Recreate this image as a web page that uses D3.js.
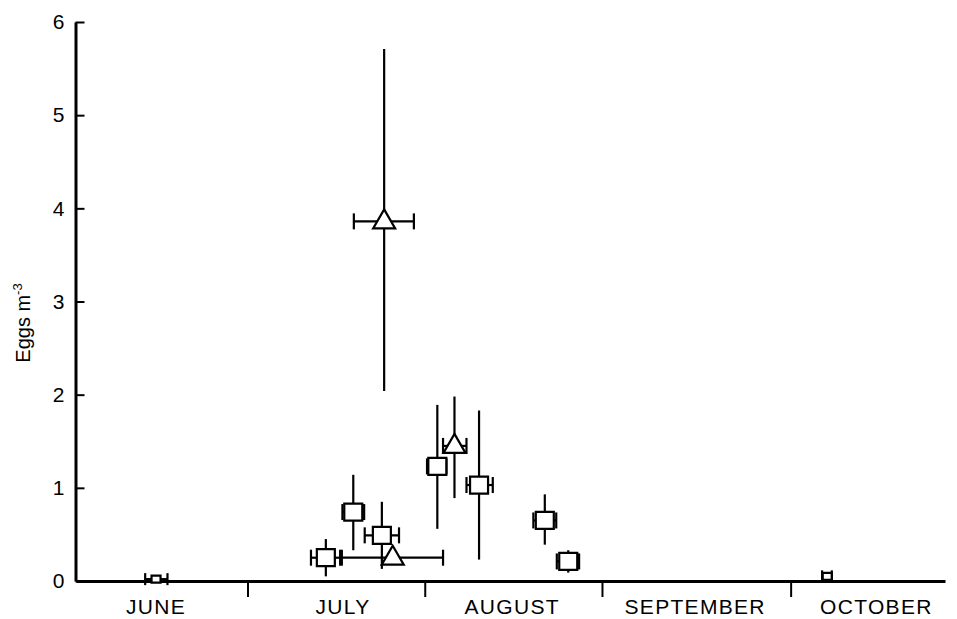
<!DOCTYPE html>
<html>
<head>
<meta charset="utf-8">
<script src="https://cdn.jsdelivr.net/npm/d3@7"></script>
<style>
body { margin: 0; background: #fff; }
text { font-family: "Liberation Sans", Arial, Helvetica, sans-serif; fill: #000; }
</style>
</head>
<body>
<div id="chart"></div>
<script>
// months along the x axis (days counted from 1 June)
let months = ["JUNE", "JULY", "AUGUST", "SEPTEMBER", "OCTOBER"]
let monthMid = [14, 46.7, 76.3, 108.3, 140]
let monthBreaks = [30, 61, 92, 125]
let yTicks = [0, 1, 2, 3, 4, 5, 6]

// samples: marker kind, day, day range, eggs and its range
let kind = ["small", "square", "square", "square", "triangle", "triangle", "square", "triangle", "square", "square", "square", "small"]
let day = [14.0, 43.7, 48.5, 53.5, 55.4, 53.9, 63.2, 66.2, 70.5, 82.0, 86.1, 131.4]
let dayLo = [12.1, 41.1, 46.6, 50.5, 46.5, 48.6, 61.4, 64.2, 68.3, 80.0, 84.1, 130.5]
let dayHi = [16.0, 46.2, 50.4, 56.5, 64.2, 59.1, 64.8, 68.3, 72.9, 84.0, 88.0, 132.2]
let eggs = [0.02, 0.25, 0.74, 0.49, 0.25, 3.86, 1.23, 1.45, 1.03, 0.65, 0.21, 0.05]
let eggsLo = [null, 0.05, 0.33, 0.13, null, 2.04, 0.56, 0.89, 0.23, 0.39, 0.09, null]
let eggsHi = [null, 0.45, 1.14, 0.85, null, 5.71, 1.89, 1.98, 1.83, 0.93, 0.33, null]

let svgWidth = 957
let svgHeight = 619

let svg = d3.select("#chart")
    .append("svg")
    .attr("width", svgWidth)
    .attr("height", svgHeight)

let data = day.map((d, i) => ({
    kind: kind[i], day: d, lo: dayLo[i], hi: dayHi[i],
    eggs: eggs[i], eLo: eggsLo[i], eHi: eggsHi[i]
}))

let x = d3.scaleLinear().domain([0, 152]).range([76, 945])
let y = d3.scaleLinear().domain([0, 6]).range([581, 22])

// y axis, ticks point inward
let yAxis = svg.append("g")
    .attr("transform", "translate(75.5,0)")
    .call(d3.axisLeft(y).tickValues(yTicks).tickFormat(d3.format("d"))
        .tickSizeInner(-9).tickSizeOuter(0).tickPadding(11))
yAxis.select(".domain").attr("stroke-width", 3)
yAxis.selectAll(".tick line").attr("stroke-width", 2)
yAxis.selectAll(".tick text")
    .style("font-size", "21px")

// x axis with month boundary ticks
let xAxis = svg.append("g")
    .attr("transform", "translate(0,581)")
    .call(d3.axisBottom(x).tickValues(monthBreaks).tickSize(16).tickSizeOuter(0).tickFormat(""))
xAxis.select(".domain").attr("stroke-width", 3)
xAxis.selectAll(".tick line").attr("stroke-width", 2)

svg.append("g").selectAll("text")
    .data(months)
    .enter()
    .append("text")
    .attr("x", (d, i) => x(monthMid[i]))
    .attr("y", 614)
    .attr("text-anchor", "middle")
    .style("font-size", "21px")
    .style("letter-spacing", "1.3px")
    .text(d => d)

// axis title
let yLabel = svg.append("text")
    .attr("transform", "translate(30,323) rotate(-90)")
    .attr("text-anchor", "middle")
    .style("font-size", "20px")
yLabel.append("tspan").text("Eggs m")
yLabel.append("tspan").attr("dy", -8).style("font-size", "13px").text("-3")

let marks = svg.append("g")
    .attr("stroke", "#000")
    .attr("stroke-width", 2.2)

// vertical error bars
marks.selectAll(".ebar")
    .data(data.filter(d => d.eLo !== null))
    .enter()
    .append("line")
    .attr("x1", d => x(d.day))
    .attr("x2", d => x(d.day))
    .attr("y1", d => y(d.eLo))
    .attr("y2", d => y(d.eHi))

// horizontal error bars with caps
let hb = marks.selectAll(".hbar")
    .data(data)
    .enter()
    .append("g")
hb.append("line")
    .attr("x1", d => x(d.lo))
    .attr("x2", d => x(d.hi))
    .attr("y1", d => y(d.eggs))
    .attr("y2", d => y(d.eggs))
hb.append("line")
    .attr("x1", d => x(d.lo))
    .attr("x2", d => x(d.lo))
    .attr("y1", d => y(d.eggs) - (d.kind == "small" ? 6 : 8))
    .attr("y2", d => y(d.eggs) + (d.kind == "small" ? 6 : 8))
hb.append("line")
    .attr("x1", d => x(d.hi))
    .attr("x2", d => x(d.hi))
    .attr("y1", d => y(d.eggs) - (d.kind == "small" ? 6 : 8))
    .attr("y2", d => y(d.eggs) + (d.kind == "small" ? 6 : 8))

// markers
let shape = {
    square: "M-9,-8.5H9V8.5H-9Z",
    small: "M-4.5,-3.5H4.5V3.5H-4.5Z",
    triangle: "M0,-12L11,7H-11Z"
}
marks.selectAll(".pt")
    .data(data)
    .enter()
    .append("path")
    .attr("transform", d => `translate(${x(d.day)},${y(d.eggs)})`)
    .attr("d", d => shape[d.kind])
    .attr("fill", "#fff")
    .attr("stroke-linejoin", "miter")
</script>
</body>
</html>
